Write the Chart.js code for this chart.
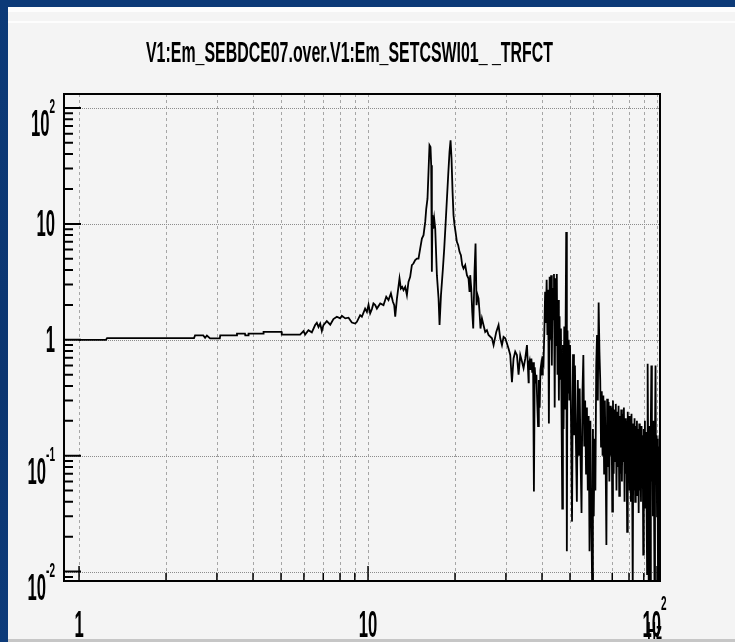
<!DOCTYPE html>
<html>
<head>
<meta charset="utf-8">
<script src="https://cdn.jsdelivr.net/npm/chart.js@4.4.1/dist/chart.umd.min.js"></script>
<style>
  html, body { margin: 0; padding: 0; }
  body { width: 735px; height: 642px; overflow: hidden; position: relative;
         background: linear-gradient(180deg, #0c3a78, #0b3570 60%, #0d3b7a); }
  #panel { position: absolute; left: 8px; top: 7px; right: 0; bottom: 3px; background: #f4f4f4; }
  #panel .band { position: absolute; left: 0; right: 0; top: 0; height: 5px; background: #fdfdfd; }
  #panel .line { position: absolute; left: 0; right: 0; top: 14px; height: 2px; background: #fdfdfd; }
  #foot { position: absolute; left: 8px; right: 0; bottom: 0; height: 3px; background: #c6c6c6; }
  canvas { position: absolute; left: 0; top: 0; }
</style>
</head>
<body>
<div id="panel"><div class="band"></div><div class="line"></div></div>
<div id="foot"></div>
<canvas id="chart" width="735" height="642"></canvas>
<script>
const chartTitle = 'V1:Em_SEBDCE07.over.V1:Em_SETCSWI01_ _TRFCT'
const xAxisTitle = 'Hz'

// 1 - 36 Hz
const freqLow = [1, 1.24, 1.25, 2.5, 2.52, 2.69, 2.73, 2.77, 2.84, 3.07, 3.08, 3.51, 3.52, 3.75, 3.76, 3.85, 3.86,
    4.34, 4.35, 5.02, 5.03, 5.82, 5.98, 6.06, 6.22, 6.39, 6.56, 6.65, 6.74, 6.83, 6.92, 7.01, 7.2, 7.4, 7.59,
    7.8, 8.01, 8.12, 8.34, 8.56, 8.79, 9.03, 9.15, 9.39, 9.52, 9.77, 9.91, 10.04, 10.17, 10.31, 10.44, 10.59,
    10.73, 11.02, 11.31, 11.56, 11.77, 12, 12.19, 12.32, 12.42, 12.59, 12.85, 12.99, 13.13, 13.27, 13.45, 13.63,
    13.8, 13.99, 14.18, 14.36, 14.56, 14.76, 14.95, 15.15, 15.36, 15.56, 15.77, 15.9, 16.06, 16.19, 16.32, 16.45,
    16.54, 16.63, 16.71, 16.81, 16.94, 17.08, 17.31, 17.54, 17.68, 17.88, 18.16, 18.35, 18.54, 18.75, 18.94,
    19.14, 19.3, 19.45, 19.61, 19.76, 19.92, 20.08, 20.3, 20.51, 20.73, 20.96, 21.18, 21.4, 21.69, 21.99, 22.27,
    22.45, 22.57, 22.76, 22.94, 23.12, 23.36, 23.55, 23.74, 23.93, 24.12, 24.31, 24.5, 24.78, 25.09, 25.44, 25.78,
    26.12, 26.84, 27.19, 27.78, 28.29, 28.68, 29.07, 29.44, 29.85, 30.25, 30.63, 31.05, 31.48, 31.88, 32.31,
    32.75, 33.18, 33.63, 34.09, 34.53, 35, 35.48, 35.94]
const ampLow = [1, 1, 1.034, 1.034, 1.09, 1.09, 1.04, 1.09, 1.03, 1.03, 1.09, 1.09, 1.13, 1.13, 1.09, 1.09, 1.13,
    1.13, 1.17, 1.17, 1.11, 1.11, 1.19, 1.11, 1.21, 1.16, 1.34, 1.4, 1.29, 1.38, 1.19, 1.34, 1.45, 1.35, 1.51,
    1.58, 1.53, 1.61, 1.53, 1.55, 1.41, 1.38, 1.43, 1.63, 1.58, 1.86, 1.74, 2.01, 1.69, 1.84, 2.06, 1.99,
    1.86, 2.06, 1.99, 2.35, 2.2, 2.51, 2.13, 1.99, 1.58, 2.27, 3.38, 2.77, 2.86, 2.68, 2.86, 2.43,
    3.16, 3.49, 4.41, 4.55, 4.87, 5.02, 5.02, 6.12, 7.47, 7.99, 10.4, 13.5, 16.5, 28.1, 47.7, 46.1,
    32.1, 3.86, 11.9, 9.11, 11.1, 9.11, 3.61, 2.27, 1.34, 2.43, 4.12, 6.12, 9.74, 16.5, 26.3,
    41.8, 52.6, 36.5, 18.9, 11.9, 9.74, 8.53, 7.0, 6.55, 5.74, 5.37, 4.41, 4.12, 4.41, 3.61, 3.38,
    2.59, 3.61, 2.77, 1.74, 1.25, 3.86, 6.77, 1.99, 2.43, 2.27, 1.74, 1.25, 1.53, 1.34, 1.17, 1.21,
    1.1, 1.03, 0.9, 1.17, 1.34, 1.03, 0.9, 1.06, 1.03, 0.93, 0.84, 0.74, 0.43, 0.69, 0.79,
    0.74, 0.5, 0.74, 0.65, 0.57, 0.69, 0.9, 0.43]

// 36 - 102.4 Hz, the noisy part
const freqHigh = [36, 36.25, 36.5, 36.75, 37, 37.25, 37.5, 37.75, 38, 38.25, 38.5, 38.75, 39, 39.25, 39.5, 39.75,
    40, 40.25, 40.5, 40.75, 41, 41.25, 41.5, 41.75, 42, 42.25, 42.5, 42.75, 43, 43.25, 43.5, 43.75, 44, 44.25,
    44.5, 44.75, 45, 45.25, 45.5, 45.75, 46, 46.25, 46.5, 46.75, 47, 47.25, 47.5, 47.75, 48, 48.25, 48.5, 48.75,
    49, 49.25, 49.5, 49.75,
    50, 50.4, 50.8, 51.2, 51.6, 52, 52.4, 52.8, 53.2, 53.6, 54, 54.4, 54.8, 55.2, 55.6, 56, 56.4, 56.8, 57.2,
    57.6, 58, 58.4, 58.8, 59.2, 59.6, 60, 60.4, 60.8, 61.2, 61.6, 62, 62.4, 62.8, 63.2, 63.6, 64, 64.4, 64.8,
    65.2, 65.6, 66, 66.4, 66.8, 67.2, 67.6, 68, 68.4, 68.8, 69.2, 69.6, 70, 70.4, 70.8, 71.2, 71.6, 72, 72.4,
    72.8, 73.2, 73.6, 74, 74.4, 74.8, 75.2, 75.6, 76, 76.4, 76.8, 77.2, 77.6, 78, 78.4, 78.8, 79.2, 79.6, 80,
    80.4, 80.8, 81.2, 81.6, 82, 82.4, 82.8, 83.2, 83.6, 84, 84.4, 84.8, 85.2, 85.6, 86, 86.4, 86.8, 87.2, 87.6,
    88, 88.4, 88.8, 89.2, 89.6, 90, 90.4, 90.8, 91.2, 91.6, 92, 92.4, 92.8, 93.2, 93.6, 94, 94.4, 94.8, 95.2,
    95.6, 96, 96.4, 96.8, 97.2, 97.6, 98, 98.4, 98.8, 99.2, 99.6, 100, 100.4, 100.8, 101.2, 101.6, 102, 102.4]
const ampHigh = [0.61, 0.66, 0.55, 0.69, 0.52, 0.64, 0.049, 0.58, 0.42, 0.5, 0.29, 0.18, 0.45, 0.26, 0.55, 0.62,
    0.5, 0.72, 0.66, 1.2, 2.6, 1.4, 3.3, 1.1, 2.7, 0.19, 3.5, 1.0, 3.6, 0.6, 2.8, 1.5, 3.7, 0.26,
    3.4, 0.9, 3.7, 0.5, 2.2, 0.3, 1.6, 0.46, 1.25, 0.2, 0.035, 0.9, 0.17, 1.3, 0.25, 1.1, 8.5, 0.015,
    1.2, 0.35, 1.0, 0.3,
    0.9, 0.2, 0.027, 0.75, 0.15, 0.6, 0.13, 0.04, 0.45, 0.1, 0.38, 0.09, 0.032, 0.35, 0.74, 0.12, 0.3, 0.07, 0.26,
    0.05, 0.22, 0.015, 0.2, 0.04, 0.008, 0.17, 0.03, 0.14, 0.05, 0.6, 1.1, 0.3, 2.1, 0.8, 0.45, 0.12, 0.36, 0.1,
    0.33, 0.07, 0.3, 0.09, 0.017, 0.31, 0.08, 0.29, 0.06, 0.27, 0.1, 0.26, 0.033, 0.3, 0.07, 0.25, 0.09, 0.28, 0.05,
    0.24, 0.08, 0.27, 0.045, 0.22, 0.07, 0.25, 0.06, 0.23, 0.09, 0.26, 0.04, 0.21, 0.07, 0.2, 0.022, 0.24, 0.06, 0.22,
    0.05, 0.2, 0.04, 0.23, 0.07, 0.007, 0.19, 0.05, 0.21, 0.04, 0.18, 0.06, 0.2, 0.045, 0.17, 0.032, 0.19, 0.05, 0.16,
    0.04, 0.18, 0.055, 0.15, 0.014, 0.17, 0.05, 0.2, 0.035, 0.16, 0.04, 0.0095, 0.62, 0.1, 0.007, 0.18, 0.04, 0.007, 0.2,
    0.6, 0.06, 0.15, 0.03, 0.2, 0.05, 0.007, 0.16, 0.6, 0.07, 0.15, 0.03, 0.14, 0.007, 0.12, 0.06, 0.15, 0.1]

// axes
const xMin = 0.887, xMax = 102.4
const yMin = 0.0083, yMax = 132
const xTickValues = [1, 10, 100]
const xTickBase = ['1', '10', '10']
const xTickExp = ['', '', '2']
const xMinorValues = [2, 3, 4, 5, 6, 7, 8, 9, 20, 30, 40, 50, 60, 70, 80, 90]
const yTickValues = [0.01, 0.1, 1, 10, 100]
const yTickBase = ['10', '10', '1', '10', '10']
const yTickExp = ['-2', '-1', '', '', '2']
const yMinorValues = [0.009, 0.02, 0.03, 0.04, 0.05, 0.06, 0.07, 0.08, 0.09, 0.2, 0.3, 0.4, 0.5, 0.6, 0.7, 0.8, 0.9,
    2, 3, 4, 5, 6, 7, 8, 9, 20, 30, 40, 50, 60, 70, 80, 90]

const points = []
freqLow.forEach((f, i) => points.push({ x: f, y: ampLow[i] }))
freqHigh.forEach((f, i) => points.push({ x: f, y: ampHigh[i] }))

const FONT = '"Liberation Sans", Arial, sans-serif'

// narrow text like the ROOT bitmap
function squeezed(ctx, text, x, y, size, sx, align) {
    ctx.save()
    ctx.font = 'bold ' + size + 'px ' + FONT
    ctx.textBaseline = 'alphabetic'
    ctx.fillStyle = '#000'
    const w = ctx.measureText(text).width * sx
    const left = align === 'right' ? x - w : align === 'center' ? x - w / 2 : x
    ctx.translate(left, y)
    ctx.scale(sx, 1)
    ctx.fillText(text, 0, 0)
    ctx.restore()
    return w
}

const rootFrame = {
    id: 'rootFrame',
    beforeDatasetsDraw(chart) {
        const { ctx, chartArea: a, scales: { x, y } } = chart
        ctx.save()
        ctx.lineWidth = 1
        ctx.strokeStyle = '#a6a6a6'
        ctx.setLineDash([3, 3])
        for (const v of xMinorValues.concat(xTickValues)) {
            const px = Math.round(x.getPixelForValue(v)) + 0.5
            ctx.beginPath()
            ctx.moveTo(px, a.top)
            ctx.lineTo(px, a.bottom)
            ctx.stroke()
        }
        ctx.strokeStyle = '#8c8c8c'
        ctx.setLineDash([1, 1])
        for (const v of yTickValues) {
            const py = Math.round(y.getPixelForValue(v)) + 0.5
            ctx.beginPath()
            ctx.moveTo(a.left, py)
            ctx.lineTo(a.right, py)
            ctx.stroke()
        }
        ctx.restore()
    },
    afterDatasetsDraw(chart) {
        const { ctx, chartArea: a, scales: { x, y } } = chart
        ctx.save()
        ctx.strokeStyle = '#000'
        ctx.lineWidth = 2
        ctx.strokeRect(a.left, a.top, a.right - a.left, a.bottom - a.top)

        // ticks inside the frame
        ctx.beginPath()
        for (const v of yTickValues) {
            const py = y.getPixelForValue(v)
            ctx.moveTo(a.left, py)
            ctx.lineTo(a.left + 17, py)
        }
        for (const v of yMinorValues) {
            const py = y.getPixelForValue(v)
            ctx.moveTo(a.left, py)
            ctx.lineTo(a.left + 9, py)
        }
        ctx.stroke()
        ctx.lineWidth = 1.5
        ctx.beginPath()
        for (const v of xTickValues) {
            const px = x.getPixelForValue(v)
            ctx.moveTo(px, a.bottom)
            ctx.lineTo(px, a.bottom - 15)
        }
        for (const v of xMinorValues) {
            const px = x.getPixelForValue(v)
            ctx.moveTo(px, a.bottom)
            ctx.lineTo(px, a.bottom - 8)
        }
        ctx.stroke()
        ctx.restore()

        // y labels
        yTickValues.forEach((v, i) => {
            const py = y.getPixelForValue(v)
            if (yTickExp[i]) {
                const ew = squeezed(ctx, yTickExp[i], 55, py + 5, 20, 0.5, 'right')
                squeezed(ctx, yTickBase[i], 55 - ew, py + 28, 37, 0.45, 'right')
            } else {
                squeezed(ctx, yTickBase[i], 55, py + 12, 37, 0.45, 'right')
            }
        })
        // x labels
        xTickValues.forEach((v, i) => {
            const px = x.getPixelForValue(v)
            if (xTickExp[i]) {
                squeezed(ctx, xTickBase[i], px + 4, 637, 37, 0.45, 'right')
                squeezed(ctx, xTickExp[i], px + 4, 610, 20, 0.5, 'left')
            } else {
                squeezed(ctx, xTickBase[i], px, 637, 37, 0.45, 'center')
            }
        })
        squeezed(ctx, xAxisTitle, 662, 639, 24, 0.5, 'right')

        // title
        ctx.save()
        ctx.font = 'bold 29px ' + FONT
        const tw = ctx.measureText(chartTitle).width
        ctx.restore()
        squeezed(ctx, chartTitle, 146, 62, 29, 407 / tw, 'left')
    }
}

new Chart(document.getElementById('chart'), {
    type: 'scatter',
    data: {
        datasets: [{
            data: points,
            showLine: true,
            borderColor: '#000',
            borderWidth: 1.8,
            pointRadius: 0,
            tension: 0
        }]
    },
    options: {
        responsive: false,
        animation: false,
        layout: { padding: { left: 64, top: 94, right: 75, bottom: 61 } },
        plugins: { legend: { display: false }, tooltip: { enabled: false }, title: { display: false } },
        scales: {
            x: { type: 'logarithmic', min: xMin, max: xMax, display: false },
            y: { type: 'logarithmic', min: yMin, max: yMax, display: false }
        }
    },
    plugins: [rootFrame]
})
</script>
</body>
</html>
